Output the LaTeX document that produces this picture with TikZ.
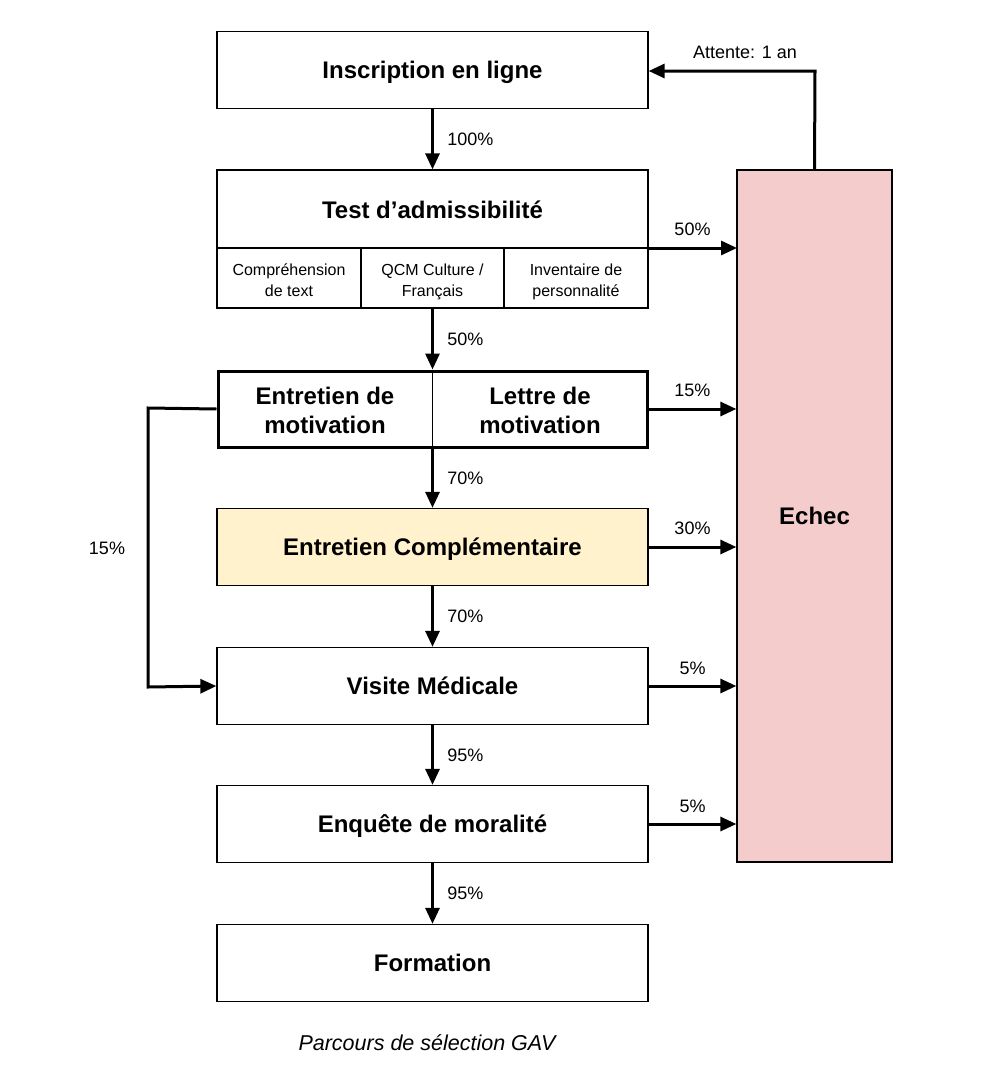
\documentclass[tikz,border=0pt]{standalone}
\usepackage{fontspec}
\setmainfont{Liberation Sans}
\usetikzlibrary{arrows.meta}
\definecolor{echecfill}{HTML}{F4CCCC}
\definecolor{compfill}{HTML}{FFF2CC}
\tikzset{
  bigtxt/.style={font=\fontsize{24}{29}\selectfont\bfseries, align=center},
  box/.style={draw, line width=1.3pt, minimum width=431pt, minimum height=77pt, inner sep=0pt, text depth=0pt, bigtxt},
  sub/.style={font=\fontsize{16}{21}\selectfont, align=center},
  lbl/.style={font=\fontsize{18}{21}\selectfont},
  arr/.style={line width=3pt, -{Triangle[length=16pt,width=14pt]}}
}
\begin{document}
\begin{tikzpicture}[x=1pt,y=-1pt]
\useasboundingbox[fill=white] (0,0) rectangle (994,1076);
% boxes
\node[box] (ins) at (432.5,70) {Inscription en ligne};
\node[draw, line width=1.3pt, minimum width=431pt, minimum height=138pt, inner sep=0pt] (test) at (432.5,239) {};
\node[bigtxt, text depth=0pt] (testt) at (432.5,210) {Test d’admissibilité};
\draw[line width=1.3pt] (217,248) -- (648,248);
\draw[line width=1.3pt] (361,248) -- (361,308);
\draw[line width=1.3pt] (504,248) -- (504,308);
\node[sub] (t1) at (289,281.5) {\strut Compréhension\\\strut de text};
\node[sub] (t2) at (432.5,281.5) {\strut QCM Culture /\\\strut Français};
\node[sub] (t3) at (576,281.5) {\strut Inventaire de\\\strut personnalité};
\node[draw, line width=3pt, minimum width=429pt, minimum height=76pt, inner sep=0pt] (ent) at (432.5,409) {};
\draw[line width=1pt] (432.5,371) -- (432.5,447);
\node[bigtxt] (ent1) at (325,413) {\strut Entretien de\\\strut motivation};
\node[bigtxt] (ent2) at (540,413) {\strut Lettre de\\\strut motivation};
\node[box, fill=compfill] (comp) at (432.5,547) {Entretien Complémentaire};
\node[box] (vis) at (432.5,686) {Visite Médicale};
\node[box] (enq) at (432.5,824) {Enquête de moralité};
\node[box] (form) at (432.5,963) {Formation};
\node[draw, line width=1.3pt, fill=echecfill, minimum width=155pt, minimum height=692pt, inner sep=0pt, text depth=0pt, bigtxt] (echec) at (814.5,516) {Echec};
% vertical arrows
\draw[arr] (ins.south) -- (test.north) node[midway, right=10pt, lbl] {100\%};
\draw[arr] (test.south) -- (ent.north) node[midway, right=10pt, lbl] {50\%};
\draw[arr] (ent.south) -- (comp.north) node[midway, right=10pt, lbl] {70\%};
\draw[arr] (comp.south) -- (vis.north) node[midway, right=10pt, lbl] {70\%};
\draw[arr] (vis.south) -- (enq.north) node[midway, right=10pt, lbl] {95\%};
\draw[arr] (enq.south) -- (form.north) node[midway, right=10pt, lbl] {95\%};
% to echec
\draw[arr] (648,248) -- (737,248) node[midway, above=7pt, lbl] {50\%};
\draw[arr] (ent.east) -- (ent.east -| echec.west) node[midway, above=7pt, lbl] {15\%};
\draw[arr] (comp.east) -- (comp.east -| echec.west) node[midway, above=7pt, lbl] {30\%};
\draw[arr] (vis.east) -- (vis.east -| echec.west) node[midway, above=7pt, lbl] {5\%};
\draw[arr] (enq.east) -- (enq.east -| echec.west) node[midway, above=7pt, lbl] {5\%};
% retry
\coordinate (r1) at (815,71);
\draw[arr] (echec.north) -- (r1) -- (ins.east |- r1);
\node[lbl] (att) at (745,52) {Attente: 1 an};
% bypass
\coordinate (b1) at (148,408);
\coordinate (b2) at (148,687);
\draw[arr] (ent.west) -- (b1) -- (b2) -- (vis.west);
\node[lbl] (p15) at (107,548) {15\%};
% caption
\node[font=\fontsize{21.5}{25}\selectfont\itshape] (cap) at (427,1043) {Parcours de sélection GAV};
\end{tikzpicture}
\end{document}
